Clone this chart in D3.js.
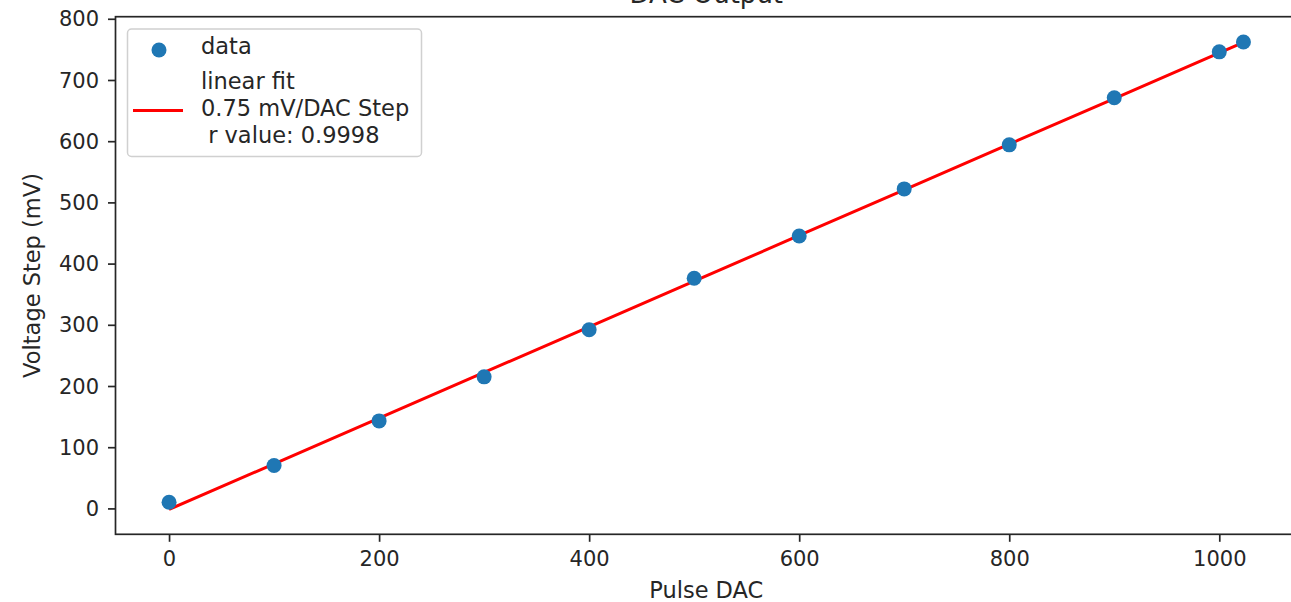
<!DOCTYPE html>
<html>
<head>
<meta charset="utf-8">
<script src="https://cdn.jsdelivr.net/npm/d3@7"></script>
<style>
  body { margin: 0; background: #fff; overflow: hidden; }
  svg { display: block; font-family: "DejaVu Sans", sans-serif; }
</style>
</head>
<body>
<svg id="chart" width="1291" height="602"></svg>
<script>
// data
const dacSteps = [0, 100, 200, 300, 400, 500, 600, 700, 800, 900, 1000, 1023];
const voltageSteps = [10, 70, 143, 215, 292, 376, 445, 522, 594, 671, 746, 762];
const xTicks = [0, 200, 400, 600, 800, 1000];
const yTicks = [0, 100, 200, 300, 400, 500, 600, 700, 800];
const xDomain = [-51, 1074];
const yDomain = [-42.3, 803.4];
const titleText = "DAC Output";
const xLabel = "Pulse DAC";
const yLabel = "Voltage Step (mV)";
const dataLabel = "data";
const fitLabel = ["linear fit", "0.75 mV/DAC Step", " r value: 0.9998"];

const box = {left: 115.5, right: 1297, top: 16.7, bottom: 534.3};
const textColor = "#262626";
const tickFont = 21;
const labelFont = 22.5;

const svg = d3.select("#chart");

const x = d3.scaleLinear().domain(xDomain).range([box.left, box.right]);
const y = d3.scaleLinear().domain(yDomain).range([box.bottom, box.top]);

// least squares fit
const mx = d3.mean(dacSteps), my = d3.mean(voltageSteps);
const sxy = d3.sum(dacSteps, (d, i) => (d - mx) * (voltageSteps[i] - my));
const sxx = d3.sum(dacSteps, d => (d - mx) * (d - mx));
const slope = sxy / sxx;
const intercept = my - slope * mx;
const fitPts = dacSteps.map(d => [d, intercept + slope * d]);

// fit line (under the markers)
svg.append("path")
    .datum(fitPts)
    .attr("fill", "none")
    .attr("stroke", "#ff0000")
    .attr("stroke-width", 3)
    .attr("d", d3.line().x(d => x(d[0])).y(d => y(d[1])));

svg.append("g")
    .selectAll("circle")
    .data(dacSteps)
    .join("circle")
    .attr("cx", d => x(d))
    .attr("cy", (d, i) => y(voltageSteps[i]))
    .attr("r", 7.5)
    .attr("fill", "#1f77b4");

// axes
const xAxis = svg.append("g")
    .attr("transform", `translate(0,${box.bottom})`)
    .call(d3.axisBottom(x).tickValues(xTicks).tickSize(7.5).tickPadding(6).tickFormat(d3.format("d")));
const yAxis = svg.append("g")
    .attr("transform", `translate(${box.left},0)`)
    .call(d3.axisLeft(y).tickValues(yTicks).tickSize(7.5).tickPadding(9).tickFormat(d3.format("d")));

[xAxis, yAxis].forEach(g => {
    g.select(".domain").remove();
    g.selectAll(".tick line").attr("stroke", textColor).attr("stroke-width", 1.7);
    g.selectAll(".tick text")
        .attr("fill", textColor)
        .attr("font-size", tickFont)
        .attr("font-family", "DejaVu Sans");
});
xAxis.selectAll(".tick text").attr("dy", null).attr("y", 32);
yAxis.selectAll(".tick text").attr("dy", "0.34em");

// spines
svg.append("rect")
    .attr("x", box.left)
    .attr("y", box.top)
    .attr("width", box.right - box.left)
    .attr("height", box.bottom - box.top)
    .attr("fill", "none")
    .attr("stroke", textColor)
    .attr("stroke-width", 1.7);

// title and axis labels
svg.append("text")
    .attr("x", (box.left + box.right) / 2)
    .attr("y", 3)
    .attr("text-anchor", "middle")
    .attr("font-size", 26)
    .attr("fill", textColor)
    .text(titleText);

svg.append("text")
    .attr("x", (box.left + box.right) / 2)
    .attr("y", 598)
    .attr("text-anchor", "middle")
    .attr("font-size", labelFont)
    .attr("fill", textColor)
    .text(xLabel);

svg.append("text")
    .attr("transform", `translate(40,${(box.top + box.bottom) / 2}) rotate(-90)`)
    .attr("text-anchor", "middle")
    .attr("font-size", labelFont)
    .attr("fill", textColor)
    .text(yLabel);

// legend
const legend = svg.append("g");
legend.append("rect")
    .attr("x", 127.5)
    .attr("y", 29)
    .attr("width", 294)
    .attr("height", 127.5)
    .attr("rx", 4)
    .attr("fill", "#fff")
    .attr("fill-opacity", 0.8)
    .attr("stroke", "#d0d0d0")
    .attr("stroke-width", 1.5);
legend.append("circle")
    .attr("cx", 159)
    .attr("cy", 50)
    .attr("r", 7.5)
    .attr("fill", "#1f77b4");
legend.append("text")
    .attr("x", 201)
    .attr("y", 54)
    .attr("font-size", labelFont)
    .attr("fill", textColor)
    .text(dataLabel);
legend.append("line")
    .attr("x1", 133)
    .attr("x2", 183)
    .attr("y1", 110.5)
    .attr("y2", 110.5)
    .attr("stroke", "#ff0000")
    .attr("stroke-width", 3);
legend.append("text")
    .attr("font-size", labelFont)
    .attr("fill", textColor)
    .attr("xml:space", "preserve")
    .style("white-space", "pre")
    .selectAll("tspan")
    .data(fitLabel)
    .join("tspan")
    .attr("x", 201)
    .attr("y", (d, i) => 89 + i * 27)
    .text(d => d);
</script>
</body>
</html>
